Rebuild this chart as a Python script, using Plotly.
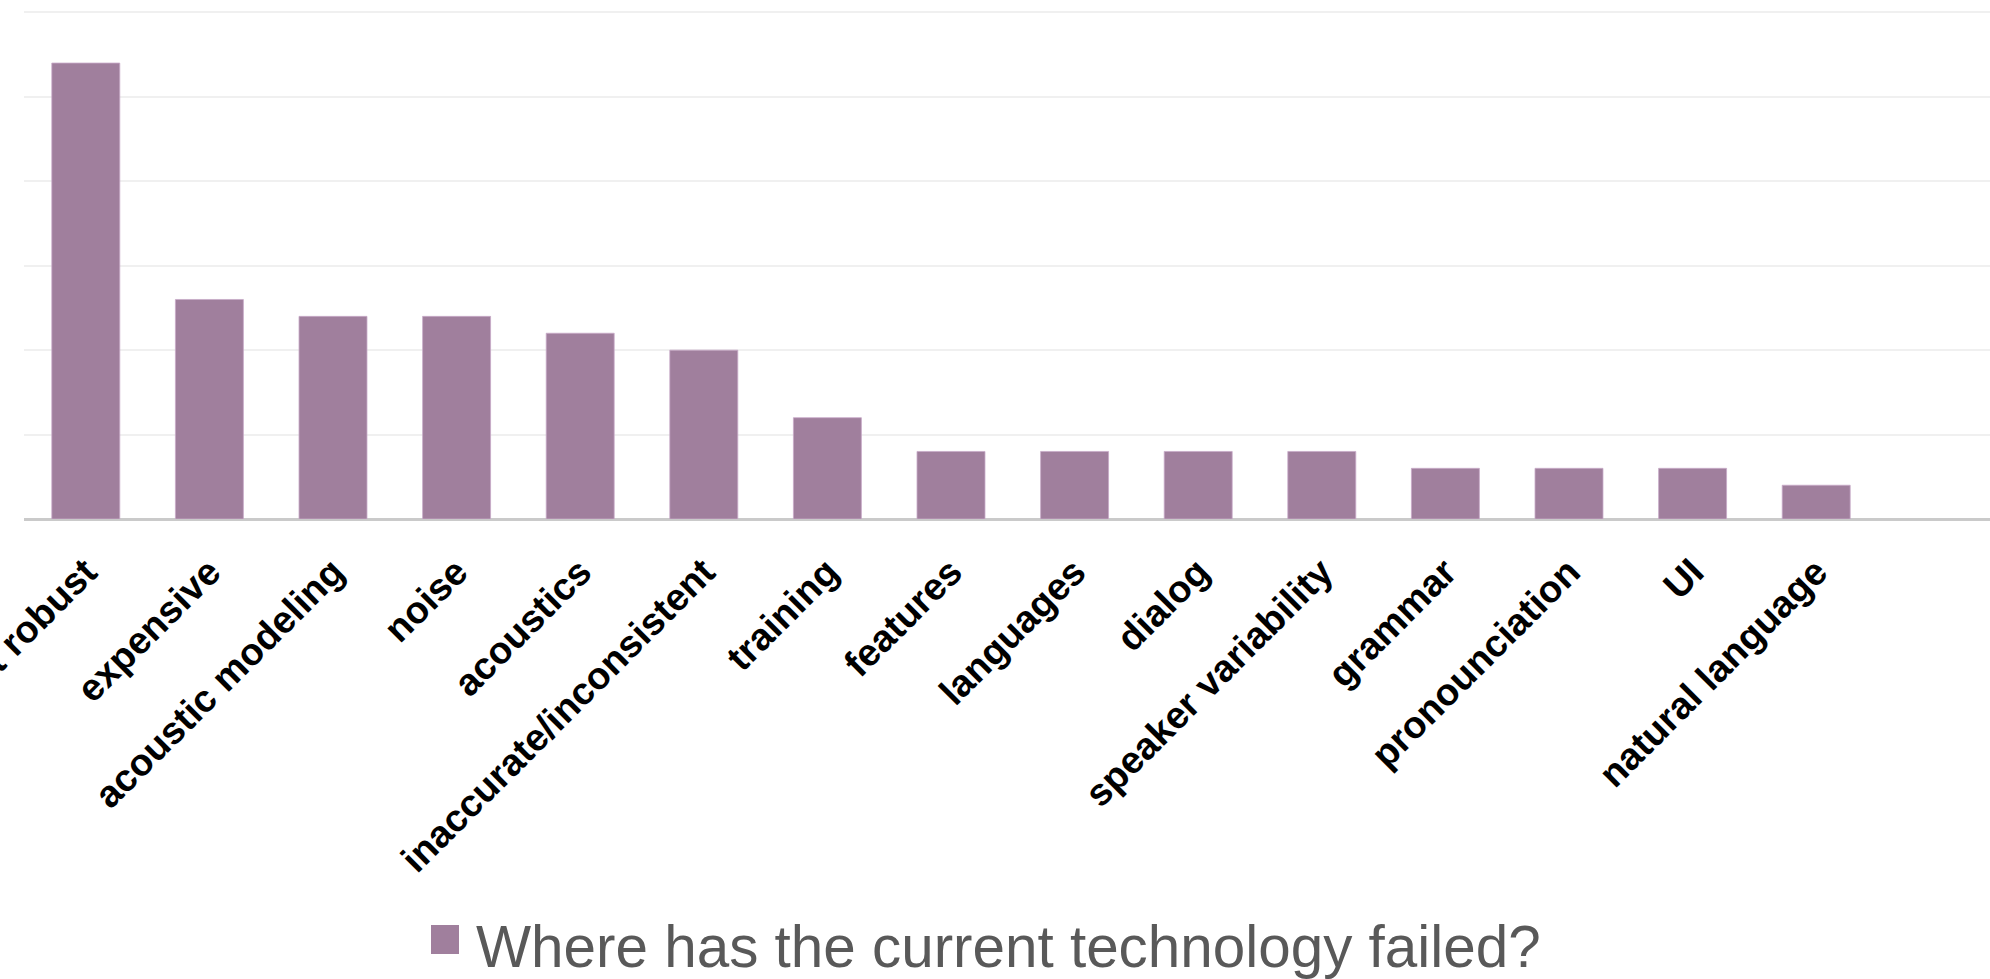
import plotly.graph_objects as go

# Survey responses: where speech technology has failed
categories = [
    "not robust", "expensive", "acoustic modeling", "noise", "acoustics",
    "inaccurate/inconsistent", "training", "features", "languages", "dialog",
    "speaker variability", "grammar", "pronounciation", "UI", "natural language",
]
counts = [27, 13, 12, 12, 11, 10, 6, 4, 4, 4, 4, 3, 3, 3, 2]
series_name = "Where has the current technology failed?"

BAR_COLOR = "rgb(160,127,157)"
W, H = 1990, 979
ML, MR, MT, MB = 24, 0, 8, 460
plot_w = W - ML - MR
plot_h = H - MT - MB
slot = 123.6      # px per category slot
unit_px = 16.887  # px per count on the value axis

fig = go.Figure()
fig.add_trace(go.Bar(
    x=categories,
    y=counts,
    name=series_name,
    marker=dict(color=BAR_COLOR, line=dict(color="rgba(200,170,200,0.8)", width=1)),
    showlegend=False,
))

def px_x(px):
    return (px - ML) / plot_w

def px_y(py):
    return (MT + plot_h - py) / plot_h

# legend swatch + label drawn in paper coordinates
fig.add_shape(type="rect", xref="paper", yref="paper",
              x0=px_x(431), x1=px_x(459), y0=px_y(954), y1=px_y(925),
              fillcolor=BAR_COLOR, line=dict(width=0))
fig.add_annotation(text=series_name, xref="paper", yref="paper",
                   x=px_x(474), y=px_y(946), xanchor="left", yanchor="middle",
                   showarrow=False,
                   font=dict(family="Liberation Sans, Arial", size=58.4, color="#595959"))

fig.update_layout(
    width=W, height=H,
    margin=dict(l=ML, r=MR, t=MT, b=MB, autoexpand=False),
    paper_bgcolor="white", plot_bgcolor="white",
    bargap=0.45,
    font=dict(family="Liberation Sans, Arial"),
)
fig.update_xaxes(
    type="category",
    range=[-0.5, -0.5 + plot_w / slot],
    tickangle=-45,
    tickfont=dict(family="Liberation Sans, Arial", size=38, color="black", weight="bold"),
    ticklabelstandoff=22,
    showgrid=False, zeroline=False,
    showline=False, ticks="",
    automargin=False,
)
fig.update_yaxes(
    range=[0, plot_h / unit_px],
    tick0=0, dtick=5,
    showticklabels=False,
    showgrid=True, gridcolor="#f0f0f0", gridwidth=2,
    zeroline=True, zerolinecolor="#cacaca", zerolinewidth=3,
    showline=False, ticks="",
    automargin=False,
)

fig.write_html("out.html")
